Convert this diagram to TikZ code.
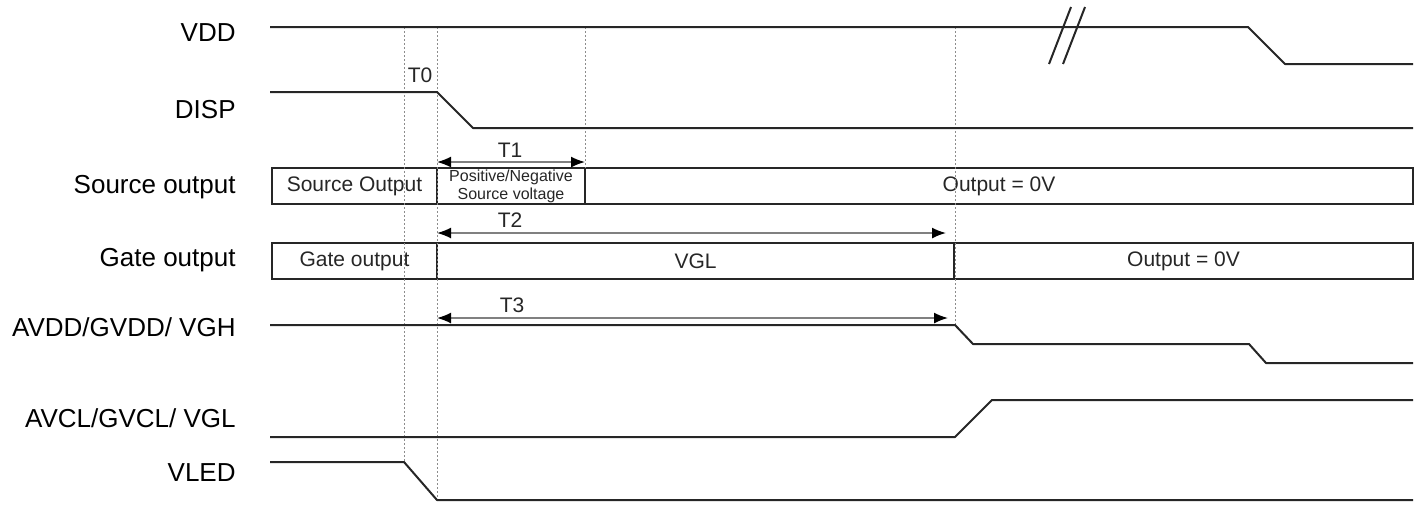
\documentclass[tikz,border=0pt]{standalone}
\usepackage{fontspec}
\setmainfont{Liberation Sans}
\usetikzlibrary{arrows.meta, positioning}

\tikzset{
  sig/.style={line width=1pt, black!85, line join=round},
  guide/.style={black!45, line width=0.5pt, dash pattern=on 1pt off 1pt},
  lbl/.style={anchor=east, inner sep=0pt, font=\fontsize{13}{15}\selectfont},
  cell/.style={draw, line width=1pt, black!85, text=black!85, inner sep=0pt, outer sep=0pt,
    minimum height=18pt, anchor=west, font=\fontsize{10.5}{12}\selectfont},
  tlbl/.style={inner sep=0pt, text=black!85, font=\fontsize{10.5}{12}\selectfont},
  span/.style={{Latex[length=7pt,width=5.5pt,black]}-{Latex[length=7pt,width=5.5pt,black]},
    black!50, line width=0.8pt}
}

\begin{document}
\begin{tikzpicture}[x=0.5pt, y=-0.5pt]
\useasboundingbox (0,0) rectangle (1427,505);

\node[lbl] (vdd) at (236,33) {VDD};
\node[lbl] (disp) at (236,110) {DISP};
\node[lbl] (src) at (236,187) {Source output};
\node[lbl] (gate) at (236,260) {Gate output};
\node[lbl] (vgh) at (236,327) {AVDD/GVDD/ VGH};
\node[lbl] (vgl) at (236,418) {AVCL/GVCL/ VGL};
\node[lbl] (vled) at (236,473) {VLED};

\node[cell, minimum width=82.5pt] (so1) at (272,186) {Source Output};
\node[cell, minimum width=74pt, right=0pt of so1, align=center,
  font=\fontsize{8}{9}\selectfont] (so2) {Positive/Negative\\Source voltage};
\node[cell, minimum width=414pt, right=0pt of so2] (so3) {Output = 0V};

\node[cell, minimum width=82.5pt] (g1) at (272,261) {Gate output};
\node[cell, minimum width=258.5pt, right=0pt of g1] (g2) {VGL};
\node[cell, minimum width=229.5pt, right=0pt of g2] (g3) {Output = 0V};

\draw[guide] (404,27) -- (404,462);
\draw[guide] (437,27) -- (437,500);
\draw[guide] (585,27) -- (585,168);
\draw[guide] (955,27) -- (955,325);

\draw[sig] (270,27) -- (1248,27) -- (1285,64) -- (1413,64);
\draw[sig] (1049,64) -- (1071,7) (1063,64) -- (1085,7);
\draw[sig] (270,92) -- (437,92) -- (473,128) -- (1413,128);
\draw[sig] (270,325) -- (955,325) -- (973,344) -- (1249,344) -- (1266,363) -- (1413,363);
\draw[sig] (270,437) -- (955,437) -- (992,400) -- (1413,400);
\draw[sig] (270,462) -- (404,462) -- (437,500) -- (1413,500);

\coordinate (t3a) at (437,318);
\coordinate (t3b) at (948,318);
\draw[span] ([yshift=3pt]so2.north west) -- ([yshift=3pt]so2.north east);
\draw[span] ([yshift=5pt]g2.north west) -- ([yshift=5pt,xshift=-4pt]g2.north east);
\draw[span] (t3a) -- (t3b);

\node[tlbl] (t0) at (420,75) {T0};
\node[tlbl] (t1) at (510,150) {T1};
\node[tlbl] (t2) at (510,220) {T2};
\node[tlbl] (t3) at (512,305) {T3};
\end{tikzpicture}
\end{document}
